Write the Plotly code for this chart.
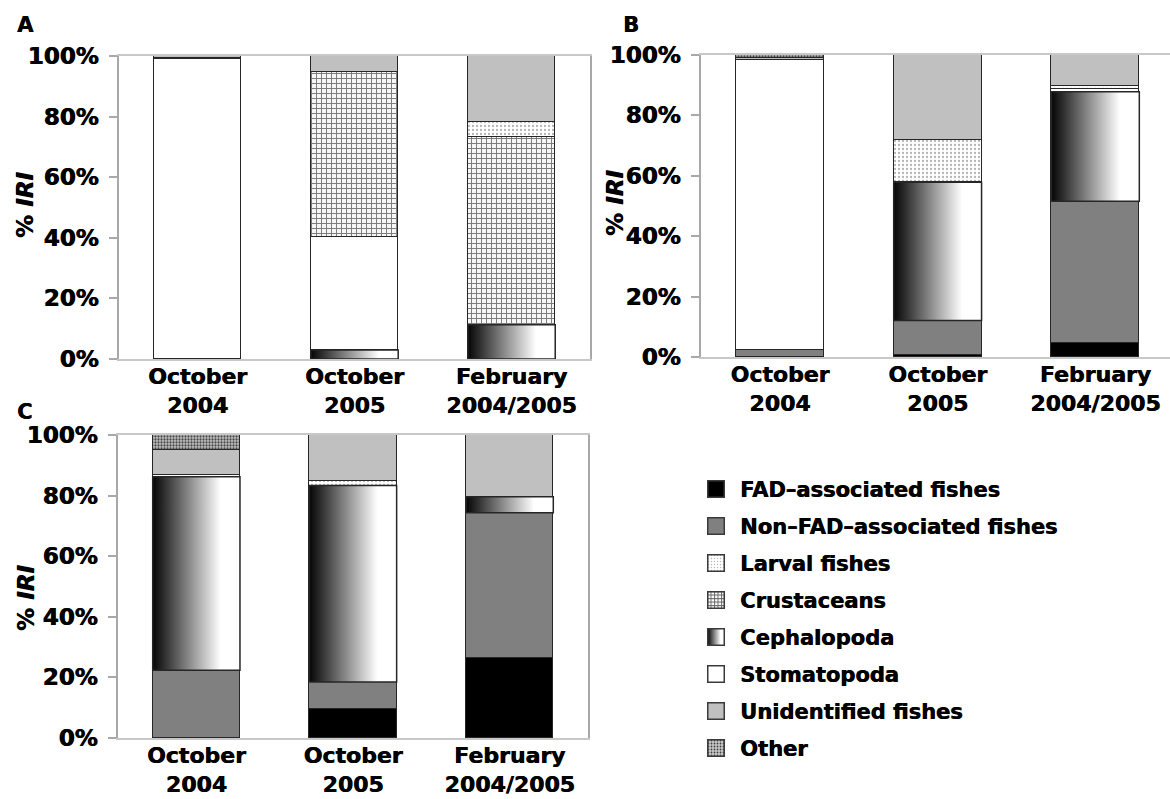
import base64
import plotly.graph_objects as go

# ---------------- data ----------------
CATEGORIES = ["October<br>2004", "October<br>2005", "February<br>2004/2005"]
Y_TICKS = [0, 20, 40, 60, 80, 100]
Y_TICK_LABELS = ["0%", "20%", "40%", "60%", "80%", "100%"]

SERIES_KEYS = ["FAD", "NONFAD", "LARVAL", "CRUST", "CEPH", "STOMA", "UNID", "OTHER"]
SERIES_NAMES = ["FAD–associated fishes", "Non–FAD–associated fishes", "Larval fishes",
                "Crustaceans", "Cephalopoda", "Stomatopoda", "Unidentified fishes", "Other"]
STACK_ORDER = ["FAD", "NONFAD", "CEPH", "STOMA", "CRUST", "LARVAL", "UNID", "OTHER"]

# Panel A
A_FAD = [0, 0, 0]
A_NONFAD = [0, 0, 0]
A_CEPH = [0, 3.0, 11.3]
A_STOMA = [99.1, 37.2, 0]
A_CRUST = [0.4, 54.6, 61.9]
A_LARVAL = [0, 0, 5.0]
A_UNID = [0.5, 5.2, 21.8]
A_OTHER = [0, 0, 0]

# Panel B
B_FAD = [0, 0.7, 4.7]
B_NONFAD = [2.4, 11.4, 46.9]
B_CEPH = [0, 45.8, 36.2]
B_STOMA = [95.9, 0, 0.8]
B_CRUST = [0, 0, 0]
B_LARVAL = [0, 13.8, 1.2]
B_UNID = [0.8, 28.3, 10.2]
B_OTHER = [0.9, 0, 0]

# Panel C
C_FAD = [0, 9.5, 26.4]
C_NONFAD = [22.4, 9.0, 47.9]
C_CEPH = [63.8, 64.8, 5.3]
C_STOMA = [0.6, 0, 0]
C_CRUST = [0, 0, 0]
C_LARVAL = [0, 1.6, 0]
C_UNID = [8.2, 15.1, 20.4]
C_OTHER = [5.0, 0, 0]

PANELS = {
    "A": dict(FAD=A_FAD, NONFAD=A_NONFAD, CEPH=A_CEPH, STOMA=A_STOMA, CRUST=A_CRUST,
              LARVAL=A_LARVAL, UNID=A_UNID, OTHER=A_OTHER),
    "B": dict(FAD=B_FAD, NONFAD=B_NONFAD, CEPH=B_CEPH, STOMA=B_STOMA, CRUST=B_CRUST,
              LARVAL=B_LARVAL, UNID=B_UNID, OTHER=B_OTHER),
    "C": dict(FAD=C_FAD, NONFAD=C_NONFAD, CEPH=C_CEPH, STOMA=C_STOMA, CRUST=C_CRUST,
              LARVAL=C_LARVAL, UNID=C_UNID, OTHER=C_OTHER),
}

# ---------------- style ----------------
W, H = 1170, 799
FONT = "DejaVu Sans"
SHADOW = "0.6px 0px 0px #000000"
BAR_W = 0.557
OUTLINE = dict(color="#262626", width=1.5)
GRAD = [[0, "#050505"], [0.12, "#2a2a2a"], [0.78, "#ffffff"], [1, "#ffffff"]]

STYLES = {
    "FAD": dict(color="#000000"),
    "NONFAD": dict(color="#808080"),
    "LARVAL": dict(color="#ffffff", pattern=dict(shape=".", fgcolor="#b4b4b4", bgcolor="#ffffff",
                                                 size=4, solidity=0.25, fillmode="replace")),
    "CRUST": dict(color="#ffffff", pattern=dict(shape="+", fgcolor="#7a7a7a", bgcolor="#f6f6f6",
                                                size=5, solidity=0.35, fillmode="replace")),
    "CEPH": dict(color="rgba(255,255,255,0)"),
    "STOMA": dict(color="#ffffff"),
    "UNID": dict(color="#c0c0c0"),
    "OTHER": dict(color="#bdbdbd", pattern=dict(shape=".", fgcolor="#4a4a4a", bgcolor="#c4c4c4",
                                                size=3, solidity=0.45, fillmode="replace")),
}

AXES = {
    # panel: (xaxis, yaxis, px left, px right, px top, px bottom, x range max)
    "A": ("x", "y", 119, 590, 56, 359, 2.5),
    "B": ("x2", "y2", 701, 1170, 55, 357, 2.473),
    "C": ("x3", "y3", 118, 588, 435, 738, 2.5),
}

fig = go.Figure()
XPOS = list(range(len(CATEGORIES)))

for p, (xa, ya, *_rest) in AXES.items():
    data = PANELS[p]
    for key in STACK_ORDER:
        vals = [v if v else None for v in data[key]]
        idx = SERIES_KEYS.index(key)
        st = STYLES[key]
        marker = dict(color=st["color"], line=OUTLINE)
        if "pattern" in st:
            marker["pattern"] = st["pattern"]
        fig.add_trace(go.Bar(
            x=XPOS, y=vals, width=BAR_W, xaxis=xa, yaxis=ya,
            name=SERIES_NAMES[idx], legendgroup=key, showlegend=False, marker=marker,
        ))
    # horizontal gradient fill for the Cephalopoda segments
    below = ["FAD", "NONFAD"]
    for i in XPOS:
        v = data["CEPH"][i]
        if not v:
            continue
        b = sum(data[k][i] for k in below)
        x0, x1 = i - BAR_W / 2, i + BAR_W / 2
        fig.add_trace(go.Scatter(
            x=[x0, x1, x1, x0, x0], y=[b, b, b + v, b + v, b],
            xaxis=xa, yaxis=ya, mode="lines", fill="toself",
            fillgradient=dict(type="horizontal", colorscale=GRAD, start=x0, stop=x1),
            line=OUTLINE, name="Cephalopoda", legendgroup="CEPH",
            showlegend=False, hoverinfo="skip",
        ))

# legend entries (their symbols are drawn as 18 px swatch images below)
for idx, key in enumerate(SERIES_KEYS):
    fig.add_trace(go.Bar(
        x=[None], y=[None], xaxis="x", yaxis="y", name=SERIES_NAMES[idx],
        legendgroup=key, legendrank=idx + 1, showlegend=True,
        marker=dict(color="rgba(0,0,0,0)", line=dict(width=0)),
    ))

ytickfont = dict(family=FONT, size=23, color="#000000", weight="bold", shadow=SHADOW)
xtickfont = dict(family=FONT, size=22, color="#000000", weight="bold", shadow=SHADOW)
layout_axes = {}
for p, (xa, ya, xl, xr, yt, yb, xmax) in AXES.items():
    xkey = "xaxis" if xa == "x" else "xaxis" + xa[1:]
    ykey = "yaxis" if ya == "y" else "yaxis" + ya[1:]
    layout_axes[xkey] = dict(
        domain=[xl / W, xr / W], anchor=ya, range=[-0.5, xmax], automargin=False,
        tickmode="array", tickvals=XPOS, ticktext=CATEGORIES, tickfont=xtickfont,
        ticklabelstandoff=-3,
        showline=True, linecolor="#c8c8c8", linewidth=1.5, mirror=True,
        showgrid=False, zeroline=False, ticks="", fixedrange=True,
    )
    layout_axes[ykey] = dict(
        domain=[1 - yb / H, 1 - yt / H], anchor=xa, range=[0, 100], automargin=False,
        tickmode="array", tickvals=Y_TICKS, ticktext=Y_TICK_LABELS, tickfont=ytickfont,
        showline=True, linecolor="#a8a8a8", linewidth=1.5, mirror=True,
        ticks="outside", ticklen=8, tickcolor="#a8a8a8", tickwidth=1.5,
        ticklabelstandoff=6, showgrid=False, zeroline=False, fixedrange=True,
    )

annotations = []
for label, x, y in [("A", 15, 25.5), ("B", 621, 25.5), ("C", 15, 411.5)]:
    annotations.append(dict(text=label, x=x / W, y=1 - y / H, xref="paper", yref="paper",
                            xanchor="left", yanchor="middle", showarrow=False,
                            font=dict(family=FONT, size=21, color="#000000", weight="bold",
                                      shadow=SHADOW)))
for x, y in [(25, 205), (615, 203), (26, 598)]:
    annotations.append(dict(text="% <i>IRI</i>", x=x / W, y=1 - y / H, xref="paper", yref="paper",
                            xanchor="center", yanchor="middle", textangle=-90, showarrow=False,
                            font=dict(family=FONT, size=23, color="#000000", weight="bold",
                                      shadow=SHADOW)))


# ---------- 18 px legend swatches ----------
def swatch(kind):
    defs, fill = "", kind.get("color", "#ffffff")
    if kind.get("type") == "dots":
        defs = ("<pattern id='p' width='3' height='3' patternUnits='userSpaceOnUse'>"
                f"<rect width='3' height='3' fill='{kind['bg']}'/>"
                f"<circle cx='1.5' cy='1.5' r='{kind['r']}' fill='{kind['fg']}'/></pattern>")
        fill = "url(#p)"
    elif kind.get("type") == "grid":
        defs = ("<pattern id='p' width='3.5' height='3.5' patternUnits='userSpaceOnUse'>"
                "<rect width='3.5' height='3.5' fill='#ffffff'/>"
                "<path d='M0,0.5H3.5M0.5,0V3.5' stroke='#6a6a6a' stroke-width='1'/></pattern>")
        fill = "url(#p)"
    elif kind.get("type") == "grad":
        defs = ("<linearGradient id='p'><stop offset='0' stop-color='#050505'/>"
                "<stop offset='0.12' stop-color='#2a2a2a'/>"
                "<stop offset='0.78' stop-color='#ffffff'/></linearGradient>")
        fill = "url(#p)"
    svg = ("<svg xmlns='http://www.w3.org/2000/svg' width='18' height='18'>"
           f"<defs>{defs}</defs><rect x='0.75' y='0.75' width='16.5' height='16.5' "
           f"fill='{fill}' stroke='#3a3a3a' stroke-width='1.5'/></svg>")
    return "data:image/svg+xml;base64," + base64.b64encode(svg.encode()).decode()


SWATCHES = {
    "FAD": dict(color="#000000"),
    "NONFAD": dict(color="#808080"),
    "LARVAL": dict(type="dots", bg="#ffffff", fg="#b8b8b8", r=0.7),
    "CRUST": dict(type="grid"),
    "CEPH": dict(type="grad"),
    "STOMA": dict(color="#ffffff"),
    "UNID": dict(color="#c0c0c0"),
    "OTHER": dict(type="dots", bg="#c8c8c8", fg="#404040", r=0.9),
}

LEG_LEFT, LEG_TOP, ROW = 700, 469, 37
images = []
for k, key in enumerate(SERIES_KEYS):
    images.append(dict(source=swatch(SWATCHES[key]), xref="paper", yref="paper",
                       x=716 / W, y=1 - (LEG_TOP + 20 + k * ROW) / H,
                       sizex=18 / W, sizey=18 / H, xanchor="center", yanchor="middle",
                       sizing="stretch", layer="above"))

fig.update_layout(
    width=W, height=H, margin=dict(l=0, r=0, t=0, b=0, autoexpand=False),
    paper_bgcolor="#ffffff", plot_bgcolor="#ffffff",
    barmode="stack", bargap=0,
    showlegend=True,
    legend=dict(x=LEG_LEFT / W, y=1 - LEG_TOP / H, xanchor="left", yanchor="top",
                font=dict(family=FONT, size=21, color="#000000", weight="bold", shadow=SHADOW),
                traceorder="grouped", tracegroupgap=6.7, itemwidth=30,
                bgcolor="rgba(0,0,0,0)"),
    images=images,
    annotations=annotations,
    **layout_axes,
)

fig.write_html("out.html", config={"displayModeBar": False},
               post_script="document.body.style.margin='0';")
